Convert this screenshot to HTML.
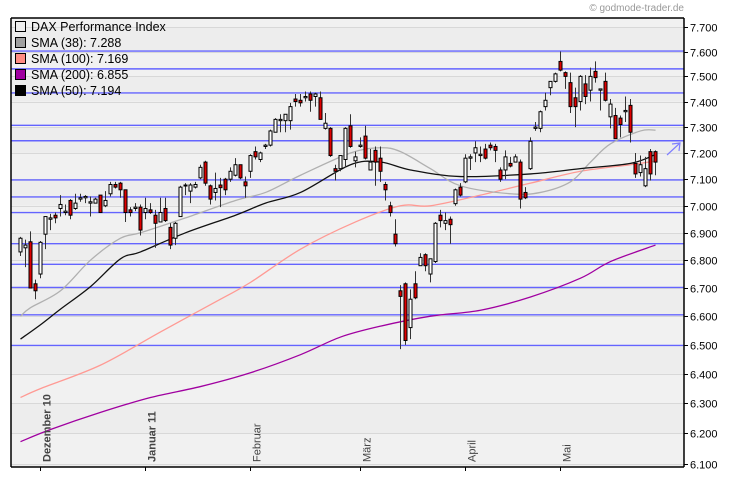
<!DOCTYPE html>
<html><head><meta charset="utf-8"><style>
html,body{margin:0;padding:0;background:#fff;}
svg{display:block;font-family:"Liberation Sans",sans-serif;}
</style></head><body>
<svg id="chart" width="730" height="481" viewBox="0 0 730 481" xmlns="http://www.w3.org/2000/svg">
<g id="bg"></g>
<g id="grid"></g>
<g id="blue"></g>
<g id="smas"></g>
<g id="candles"></g>
<g id="axes"></g>
<g id="legend"></g>
<text x="684" y="11" font-size="10" fill="#999" text-anchor="end">© godmode-trader.de</text>
<g stroke="#7f7fff" stroke-width="1.2" fill="none">
<line x1="667" y1="155" x2="680" y2="143"/><polyline points="672,144 680,143 679,151"/></g>
</svg>
<script>
const opens=[6.83,6.845,6.867,6.715,6.75,6.895,6.95,6.965,6.99,6.975,7.02,6.99,7.025,7.03,7.01,7.01,7.04,7.0,7.045,7.08,7.085,7.06,6.985,6.99,6.995,6.975,6.985,6.965,6.94,6.99,6.92,6.88,6.96,7.075,7.055,7.07,7.105,7.165,7.075,7.05,7.078,7.1,7.1,7.115,7.155,7.09,7.13,7.205,7.175,7.225,7.23,7.28,7.325,7.325,7.325,7.41,7.405,7.415,7.43,7.42,7.415,7.295,7.295,7.14,7.14,7.175,7.305,7.17,7.225,7.265,7.135,7.21,7.18,7.08,7.0,6.895,6.69,6.715,6.56,6.715,6.78,6.82,6.75,6.795,6.965,6.935,6.95,7.008,7.07,7.09,7.18,7.2,7.19,7.215,7.23,7.225,7.135,7.135,7.16,7.165,7.165,7.05,7.14,7.295,7.295,7.38,7.455,7.48,7.56,7.515,7.475,7.415,7.4,7.47,7.445,7.52,7.445,7.48,7.34,7.345,7.335,7.36,7.385,7.16,7.125,7.075,7.205,7.205];
const highs=[6.885,6.875,6.905,6.73,6.87,6.96,6.97,6.975,7.04,7.005,7.025,7.045,7.045,7.04,7.035,7.03,7.04,7.055,7.09,7.09,7.09,7.06,6.995,7.01,7.005,7.03,7.01,6.985,7.03,7.03,6.935,6.94,7.075,7.085,7.085,7.09,7.155,7.17,7.08,7.125,7.105,7.105,7.145,7.18,7.155,7.11,7.195,7.225,7.205,7.235,7.29,7.335,7.35,7.35,7.395,7.43,7.43,7.44,7.44,7.435,7.44,7.355,7.3,7.155,7.19,7.3,7.35,7.205,7.26,7.305,7.215,7.225,7.225,7.09,7.015,6.95,6.71,6.72,6.695,6.76,6.825,6.825,6.805,6.94,6.985,6.975,6.96,7.065,7.085,7.195,7.195,7.245,7.225,7.235,7.24,7.235,7.145,7.21,7.185,7.195,7.175,7.07,7.26,7.32,7.365,7.435,7.48,7.515,7.6,7.52,7.515,7.455,7.505,7.505,7.535,7.56,7.45,7.515,7.41,7.375,7.345,7.42,7.41,7.2,7.19,7.185,7.215,7.21];
const lows=[6.815,6.775,6.70,6.66,6.735,6.84,6.91,6.935,6.96,6.965,6.95,6.985,7.015,7.01,6.96,7.01,6.975,6.995,7.035,7.065,7.03,6.94,6.96,6.98,6.89,6.95,6.97,6.845,6.94,6.94,6.84,6.855,6.96,7.04,7.01,7.065,7.1,7.075,7.005,7.02,6.995,7.04,7.09,7.11,7.1,7.03,7.105,7.175,7.165,7.215,7.225,7.28,7.28,7.28,7.29,7.38,7.38,7.4,7.36,7.38,7.33,7.29,7.185,7.095,7.13,7.145,7.22,7.145,7.22,7.175,7.135,7.075,7.09,7.02,6.96,6.85,6.485,6.5,6.52,6.66,6.78,6.76,6.72,6.79,6.92,6.91,6.86,7.0,7.035,7.085,7.135,7.165,7.165,7.175,7.21,7.165,7.09,7.1,7.145,7.165,6.99,7.025,7.135,7.285,7.28,7.365,7.425,7.475,7.52,7.45,7.355,7.3,7.365,7.39,7.4,7.475,7.365,7.4,7.295,7.255,7.26,7.32,7.24,7.105,7.11,7.07,7.095,7.115];
const closes=[6.88,6.855,6.70,6.69,6.865,6.96,6.955,6.955,7.005,6.98,6.965,7.01,7.03,7.035,7.015,7.025,6.975,7.02,7.08,7.07,7.06,6.975,6.975,6.995,6.91,6.99,6.975,6.935,6.975,6.945,6.855,6.935,7.07,7.078,7.078,7.08,7.145,7.085,7.025,7.065,7.068,7.06,7.13,7.155,7.105,7.075,7.19,7.185,7.2,7.23,7.285,7.33,7.33,7.35,7.38,7.4,7.395,7.42,7.405,7.43,7.33,7.315,7.19,7.13,7.19,7.295,7.225,7.185,7.23,7.18,7.165,7.165,7.13,7.06,6.975,6.86,6.67,6.515,6.66,6.665,6.81,6.78,6.805,6.935,6.945,6.945,6.93,7.06,7.04,7.18,7.185,7.22,7.195,7.18,7.22,7.21,7.1,7.185,7.15,7.185,7.025,7.03,7.245,7.3,7.36,7.405,7.48,7.51,7.525,7.5,7.38,7.38,7.5,7.42,7.5,7.495,7.45,7.405,7.39,7.255,7.31,7.365,7.28,7.12,7.155,7.14,7.12,7.165];
const sma200Idx=[0,6,16,26,36,46,56,64,72,82,92,102,112,118,127];
const sma200Val=[6.173,6.213,6.27,6.32,6.357,6.404,6.466,6.527,6.565,6.6,6.621,6.668,6.735,6.795,6.855];
const sma100Idx=[0,4,16,28,40,46,56,67,76,82,92,102,112,122,127];
const sma100Val=[6.32,6.35,6.43,6.545,6.66,6.72,6.84,6.94,7.0,7.0,7.04,7.085,7.13,7.155,7.169];
const sma50Idx=[0,4,8,14,20,24,33,43,49,56,66,72,78,88,102,112,122,127];
const sma50Val=[6.52,6.57,6.625,6.705,6.805,6.83,6.9,6.965,7.01,7.05,7.155,7.165,7.135,7.11,7.12,7.14,7.16,7.194];
const sma38Idx=[0,2,8,14,20,24,33,43,49,56,66,72,76,82,88,98,104,110,114,118,124,127];
const sma38Val=[6.6,6.63,6.69,6.8,6.88,6.9,6.955,7.02,7.05,7.115,7.2,7.22,7.205,7.14,7.075,7.045,7.05,7.09,7.165,7.235,7.285,7.288];
const levels=[7.602,7.53,7.434,7.307,7.247,7.097,7.033,6.975,6.86,6.785,6.702,6.605,6.498];
const yTicks=[7.7,7.6,7.5,7.4,7.3,7.2,7.1,7.0,6.9,6.8,6.7,6.6,6.5,6.4,6.3,6.2,6.1];
const yTickLabels=["7.700","7.600","7.500","7.400","7.300","7.200","7.100","7.000","6.900","6.800","6.700","6.600","6.500","6.400","6.300","6.200","6.100"];
const monthIdx=[4,25,46,68,89,108];
const monthLabels=["Dezember 10","Januar 11","Februar","März","April","Mai"];
const monthBold=[true,true,false,false,false,false];
const legendLabels=["DAX Performance Index","SMA (38): 7.288","SMA (100): 7.169","SMA (200): 6.855","SMA (50): 7.194"];
const legendColors=["#eeeeee","#a0a0a0","#ff8c84","#a000a0","#000000"];

const NS="http://www.w3.org/2000/svg";
const L=11,R=684,T=18,B=467;
function X(i){return 20.5+5*i;}
function Y(v){return 27+1876*(Math.log(7.7)-Math.log(v));}
function mk(tag,attrs,parent){const e=document.createElementNS(NS,tag);for(const k in attrs)e.setAttribute(k,attrs[k]);parent.appendChild(e);return e;}
const g=id=>document.getElementById(id);

for(let k=0;k<yTicks.length+1;k++){
  const top=k===0?T:Y(yTicks[k-1]); const bot=k<yTicks.length?Y(yTicks[k]):B;
  const r=mk('rect',{x:L,y:Math.max(T,top),width:R-L,height:Math.max(0,Math.min(B,bot)-Math.max(T,top)),fill:k%2?'#ededed':'#f1f1f1'},g('bg'));
  
  
}
yTicks.forEach((v,k)=>{
  const y=Math.round(Y(v))+0.5;
  const l=mk('line',{x1:L,x2:R,y1:y,y2:y,stroke:'#d8d8d8','stroke-width':1},g('grid'));
  
  
  const t=mk('line',{x1:R,x2:R+4,y1:y,y2:y,stroke:'#000'},g('axes'));
  
  
  const tx=mk('text',{x:R+6,y:y+4,'font-size':11,fill:'#000'},g('axes'));
  tx.textContent=yTickLabels[k];
  
  
});
levels.forEach(v=>{
  const y=Y(v);
  const l=mk('line',{x1:L,x2:R,y1:y,y2:y,stroke:'#6464ff','stroke-width':1.4},g('blue'));
  
  
});
function smooth(idx,val){
  const p=idx.map((i,k)=>[X(i),Y(val[k])]);
  let d='M'+p[0][0]+','+p[0][1];
  for(let k=0;k<p.length-1;k++){
    const p0=p[k-1]||p[k],p1=p[k],p2=p[k+1],p3=p[k+2]||p2;
    const c1=[p1[0]+(p2[0]-p0[0])/6,p1[1]+(p2[1]-p0[1])/6];
    const c2=[p2[0]-(p3[0]-p1[0])/6,p2[1]-(p3[1]-p1[1])/6];
    d+=' C'+c1+' '+c2+' '+p2;
  }
  return d;
}
[[sma200Idx,sma200Val,'#a000a0','sma-200-line'],[sma100Idx,sma100Val,'#ff9a94','sma-100-line'],[sma38Idx,sma38Val,'#b0b0b0','sma-38-line'],[sma50Idx,sma50Val,'#111','sma-50-line']].forEach(s=>{
  const p=mk('path',{d:smooth(s[0],s[1]),fill:'none',stroke:s[2],'stroke-width':1.3},g('smas'));
  
  
});
opens.forEach((o,i)=>{
  const c=closes[i],x=X(i);
  const cg=mk('g',{},g('candles'));
  
  
  mk('line',{x1:x,x2:x,y1:Y(highs[i]),y2:Y(lows[i]),stroke:'#333','stroke-width':1},cg);
  const top=Y(Math.max(o,c)),bot=Y(Math.min(o,c));
  mk('rect',{x:x-1.5,y:top,width:3,height:Math.max(1,bot-top),fill:c<o?'#e00000':'#ffffff',stroke:'#000','stroke-width':1},cg);
});
[[L,T,L,B],[L,B,R,B],[R,T,R,B],[L,T,R,T]].forEach(a=>{
  const l=mk('line',{x1:a[0],y1:a[1],x2:a[2],y2:a[3],stroke:'#000','stroke-width':1.5},g('axes'));
  
  
});
monthIdx.forEach((i,k)=>{
  const x=X(i);
  const t=mk('line',{x1:x,x2:x,y1:B,y2:B+4,stroke:'#000'},g('axes'));
  
  
  const tx=mk('text',{x:0,y:0,'font-size':11,fill:'#444','font-weight':monthBold[k]?'bold':'normal',transform:'translate('+(x+10)+',462) rotate(-90)'},g('axes'));
  tx.textContent=monthLabels[k];
  
  
});
legendLabels.forEach((lab,k)=>{
  const y=21+16*k;
  const r=mk('rect',{x:15.5,y:y+0.5,width:10,height:10,fill:legendColors[k],stroke:'#000','stroke-width':1},g('legend'));
  
  
  const t=mk('text',{x:31,y:y+10,'font-size':12.5,fill:'#000'},g('legend'));
  t.textContent=lab;
  
  
});
</script>
</body></html>
